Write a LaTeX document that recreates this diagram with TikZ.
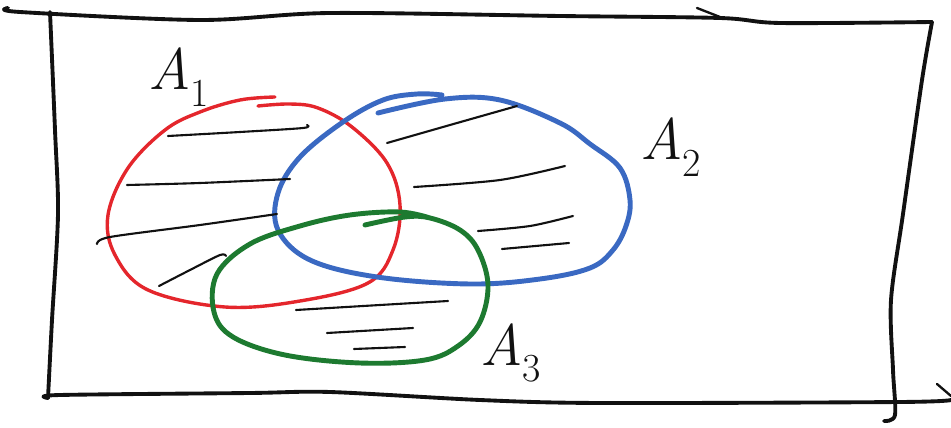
\documentclass[tikz,border=0pt]{standalone}
\usepackage{amsmath,amssymb}
\usepackage{xcolor}
\usepackage{tikz}
\usetikzlibrary{positioning}
\definecolor{vnRed}{HTML}{E4262C}
\definecolor{vnBlue}{HTML}{3A69C2}
\definecolor{vnGreen}{HTML}{1D7A30}
\definecolor{vnInk}{HTML}{111111}
\newcommand{\vnset}[1]{\textit{A}\raisebox{-0.28em}{\fontsize{34}{38}\selectfont #1}}
\tikzset{
  vn sketch/.style={line cap=round, line join=round},
  vn frame/.style={draw=vnInk, line width=3.3pt},
  vn set/.style={line width=4.2pt},
  vn set a/.style={vn set, draw=vnRed, line width=2.9pt},
  vn set b/.style={vn set, draw=vnBlue},
  vn set c/.style={vn set, draw=vnGreen},
  vn hatch/.style={draw=vnInk, line width=1.8pt},
  vn label/.style={anchor=base west, inner sep=0pt, text=vnInk,
    font=\fontsize{50}{56}\selectfont}
}
\begin{document}
\begin{tikzpicture}[vn sketch,x=0.03cm,y=-0.03cm]
\useasboundingbox (0,0) rectangle (951,428);
% frame
\draw[vn frame] plot[smooth,tension=0.5] coordinates {(8,8) (20,12) (200,20) (330,13) (560,16) (720,18) (780,23) (932,22)};
\draw[vn frame] plot[smooth,tension=0.5] coordinates {(932,22) (922,80) (903,214) (891,300) (893,370) (895,415) (884,421)};
\draw[vn frame] plot[smooth,tension=0.5] coordinates {(50,12) (55,130) (58,214) (52,320) (48,398)};
\draw[vn frame] plot[smooth,tension=0.5] coordinates {(48,398) (60,395) (250,393) (330,392) (480,400) (600,403) (900,402) (951,400)};
\draw[vn frame,line width=2pt] (697,8) -- (720,17);
\draw[vn frame,line width=2pt] (937,384) -- (951,396);
% sets
\draw[vn set a] plot[smooth,tension=0.6] coordinates {(275,97) (240,100) (200,112) (165,130) (128,168) (108,215) (115,255) (148,290) (225,307) (300,301) (368,283) (393,250) (400,205) (387,163) (352,127) (318,108) (290,104) (258,106)};
\draw[vn set b] plot[smooth,tension=0.6] coordinates {(442,95) (417,94) (383,100) (343,122) (300,157) (278,193) (278,230) (310,260) (377,277) (470,284) (540,279) (590,268) (613,250) (626,226) (630,200) (620,168) (590,144) (560,123) (500,100) (445,99) (378,113)};
\draw[vn set c] plot[smooth,tension=0.6] coordinates {(365,225) (405,217) (430,218) (460,230) (478,250) (488,285) (480,322) (458,346) (425,360) (360,363) (285,355) (233,337) (214,312) (217,274) (250,244) (300,226) (350,215) (400,212) (430,218)};
% hatching
\draw[vn hatch] plot[smooth] coordinates {(168,136) (240,132) (303,128) (307,125)};
\draw[vn hatch] plot[smooth] coordinates {(127,185) (200,183) (290,179)};
\draw[vn hatch] plot[smooth] coordinates {(97,244) (110,237) (200,225) (277,214)};
\draw[vn hatch] plot[smooth] coordinates {(159,286) (190,270) (220,255) (226,256)};
\draw[vn hatch] plot[smooth] coordinates {(387,143) (450,125) (517,106)};
\draw[vn hatch] plot[smooth] coordinates {(414,187) (500,180) (565,166)};
\draw[vn hatch] plot[smooth] coordinates {(478,231) (530,226) (573,216)};
\draw[vn hatch] plot[smooth] coordinates {(502,249) (569,243)};
\draw[vn hatch] plot[smooth] coordinates {(296,310) (380,305) (448,301)};
\draw[vn hatch] plot[smooth] coordinates {(327,333) (413,328)};
\draw[vn hatch] plot[smooth] coordinates {(354,349) (405,347)};
% labels
\node[vn label] (labA) at (148,90) {\vnset{1}};
\node[vn label] (labB) at (640,160) {\vnset{2}};
\node[vn label] (labC) at (480,365) {\vnset{3}};
\end{tikzpicture}
\end{document}
